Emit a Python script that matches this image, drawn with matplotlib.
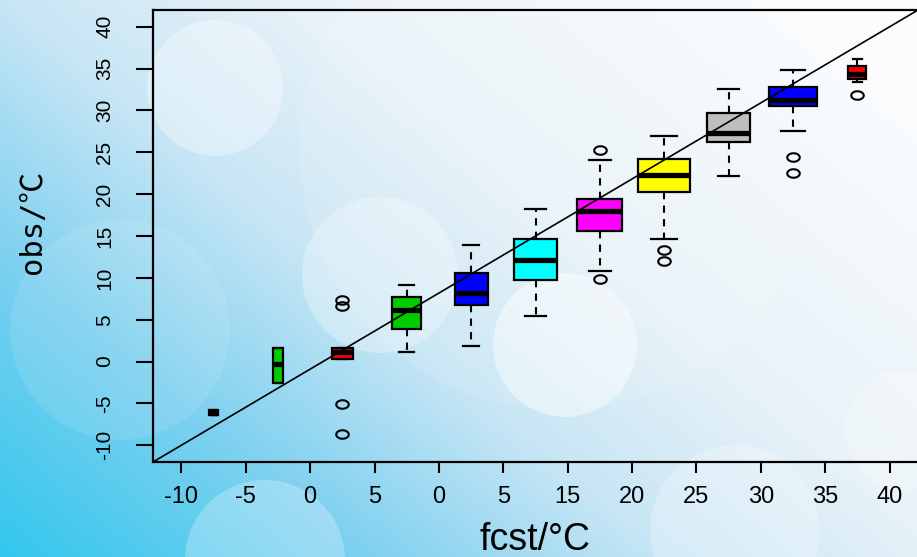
import numpy as np
import matplotlib
matplotlib.use("Agg")
import matplotlib.pyplot as plt
from matplotlib.patches import Circle
from matplotlib.path import Path
from matplotlib.colors import LinearSegmentedColormap

# ---------------- data ----------------
positions = [1, 2, 3, 4, 5, 6, 7, 8, 9, 10, 11]
whis_lo = [-6.4, -2.6, 0.3, 1.1, 1.8, 5.5, 10.8, 14.7, 22.2, 27.5, 33.4]
q1 = [-6.4, -2.6, 0.3, 3.9, 6.8, 9.8, 15.6, 20.3, 26.2, 30.5, 33.8]
medians = [-6.1, -0.3, 1.2, 6.2, 8.2, 12.1, 18.0, 22.3, 27.3, 31.3, 34.4]
q3 = [-5.8, 1.6, 1.6, 7.7, 10.6, 14.6, 19.4, 24.2, 29.7, 32.8, 35.3]
whis_hi = [-5.8, 1.6, 1.6, 9.1, 13.9, 18.2, 24.1, 26.9, 32.6, 34.8, 36.1]
outliers = [[], [], [7.4, 6.6, -5.1, -8.6], [], [], [], [25.3, 9.9],
            [13.3, 12.0], [], [24.4, 22.5], [31.8]]
box_widths = [0.14, 0.15, 0.32, 0.45, 0.51, 0.67, 0.70, 0.81, 0.67, 0.75, 0.28]
box_colors = ["black", "#00CD00", "red", "#00CD00", "blue", "cyan", "magenta",
              "yellow", "#BEBEBE", "blue", "red"]
xtick_pos = [0.5, 1.5, 2.5, 3.5, 4.5, 5.5, 6.5, 7.5, 8.5, 9.5, 10.5, 11.5]
xtick_labels = ["-10", "-5", "0", "5", "0", "5", "15", "20", "25", "30", "35", "40"]
ytick_pos = [-10, -5, 0, 5, 10, 15, 20, 25, 30, 35, 40]
ytick_labels = ["-10", "-5", "0", "5", "10", "15", "20", "25", "30", "35", "40"]

W, H = 917, 557
fig = plt.figure(figsize=(W / 100, H / 100), dpi=100)

# ---------------- background ----------------
bg = fig.add_axes([0, 0, 1, 1], zorder=0)
xx, yy = np.meshgrid(np.linspace(0, 1, 400), np.linspace(0, 1, 250))
s = 0.62 * xx + 0.45 * (1 - yy)
s = np.clip(s, 0, 1)
cmap = LinearSegmentedColormap.from_list(
    "bg", [(0.0, (0.20, 0.78, 0.93)), (0.25, (0.50, 0.82, 0.94)),
           (0.45, (0.78, 0.90, 0.96)), (0.65, (0.91, 0.95, 0.975)),
           (1.0, (0.985, 0.99, 0.995))])
bg.imshow(s, cmap=cmap, extent=[0, W, H, 0], aspect="auto", vmin=0, vmax=1)
for (cx, cy, r, a) in [(215, 88, 68, 0.35), (380, 275, 78, 0.30), (565, 345, 72, 0.45),
                       (265, 560, 80, 0.25), (735, 530, 85, 0.25), (560, 150, 260, 0.10),
                       (905, 430, 60, 0.25), (120, 330, 110, 0.10)]:
    bg.add_patch(Circle((cx, cy), r, facecolor="white", edgecolor="none", alpha=a))
bg.set_xlim(0, W)
bg.set_ylim(H, 0)
bg.axis("off")

# ---------------- main axes ----------------
ax = fig.add_axes([153 / W, 95 / H, (918 - 153) / W, 452 / H], zorder=1)
ax.patch.set_alpha(0)

stats = []
for i in range(len(positions)):
    stats.append(dict(med=medians[i], q1=q1[i], q3=q3[i], whislo=whis_lo[i],
                      whishi=whis_hi[i], fliers=outliers[i]))

theta = np.linspace(0, 2 * np.pi, 60)
ell = Path(np.column_stack([np.cos(theta), 0.68 * np.sin(theta)]), closed=True)

bp = ax.bxp(stats, positions=positions, widths=box_widths,
            capwidths=[w * 0.5 for w in box_widths], patch_artist=True,
            boxprops=dict(edgecolor="black", linewidth=1.6),
            medianprops=dict(color="black", linewidth=3.8, solid_capstyle="butt"),
            whiskerprops=dict(color="black", linewidth=1.5, linestyle=(0, (3.5, 3))),
            capprops=dict(color="black", linewidth=1.6),
            flierprops=dict(marker=ell, markersize=9, markerfacecolor="none",
                            markeredgecolor="black", markeredgewidth=1.5, linestyle="none"),
            manage_ticks=False)
for patch, c in zip(bp["boxes"], box_colors):
    patch.set_facecolor(c)

ax.plot([0, 1], [0, 1], transform=ax.transAxes, color="black", linewidth=1.2, zorder=5)

ax.set_xlim(0.06, 11.94)
ax.set_ylim(-12, 42)

ax.set_xticks(xtick_pos)
ax.set_xticklabels(xtick_labels, fontsize=17, family="Liberation Sans")
ax.set_yticks(ytick_pos)
ax.set_yticklabels(ytick_labels, fontsize=15, family="Liberation Sans",
                   rotation=90, va="center")
ax.tick_params(axis="x", length=8, width=1.5, pad=9, colors="black")
ax.tick_params(axis="y", length=12, width=1.5, pad=16, colors="black")

for sp in ["left", "bottom", "top"]:
    ax.spines[sp].set_linewidth(1.6)
    ax.spines[sp].set_color("black")
ax.spines["right"].set_visible(False)

fig.text(535 / W, 1 - 540 / H, "fcst/°C", fontsize=27, family="Liberation Sans",
         ha="center", va="center")
fig.text(33 / W, 1 - 222 / H, "obs/℃", fontsize=22,
         family=["DejaVu Sans Mono", "Noto Sans CJK SC"], rotation=90,
         ha="center", va="center")

fig.savefig("out.png", dpi=100)
